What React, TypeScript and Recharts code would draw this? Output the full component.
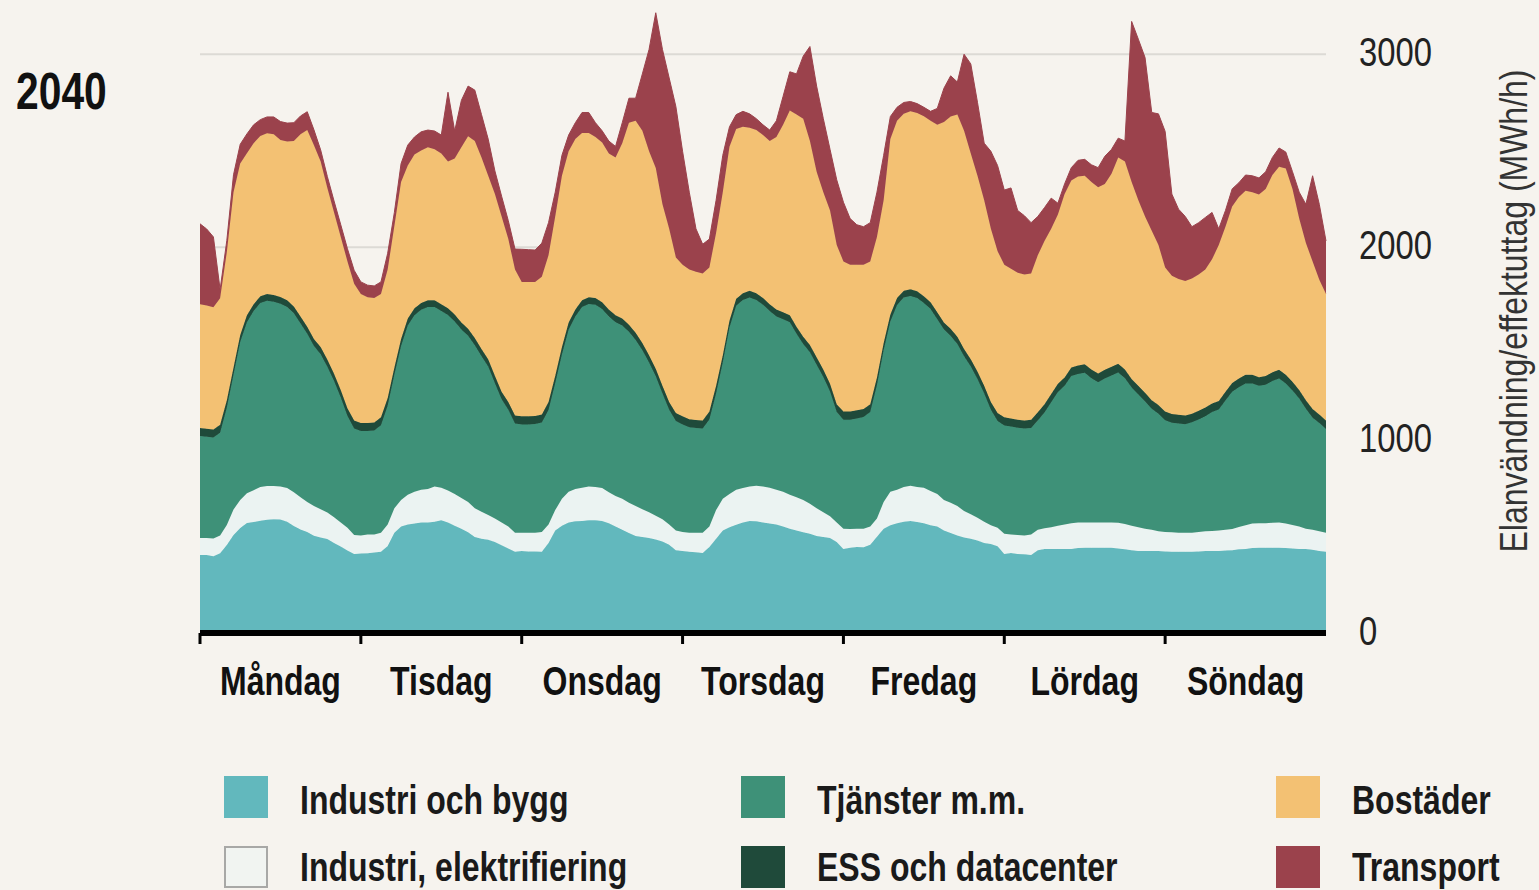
import { AreaChart, Area, XAxis, YAxis, CartesianGrid } from 'recharts'

const FONT = "'Liberation Sans', Arial, sans-serif"
const SQUEEZE = 0.8 // narrow look of the original typeface

const dayNames = ['Måndag', 'Tisdag', 'Onsdag', 'Torsdag', 'Fredag', 'Lördag', 'Söndag']
const dayTicks = [0, 24, 48, 72, 96, 120, 144]
const dayLabelTicks = [12, 36, 60, 84, 108, 132, 156]
const yTicks = [0, 1000, 2000, 3000]
const gridValues = [1000, 2000, 3000]

// MWh/h per hour, Monday 00 -> Sunday 24 (169 points)
const industri = [
  404, 404, 398, 414, 456, 508, 544, 570, 575, 582, 587, 590, 588, 577, 555, 536, 523, 504, 495, 487, 466, 449, 428, 409,
  412, 414, 417, 421, 451, 520, 552, 563, 567, 573, 573, 577, 584, 573, 556, 541, 522, 497, 489, 484, 472, 455, 438, 421,
  425, 423, 423, 421, 467, 531, 556, 573, 579, 581, 584, 584, 581, 569, 552, 535, 518, 503, 497, 493, 485, 474, 457, 429,
  425, 421, 419, 415, 446, 489, 531, 548, 561, 573, 581, 579, 573, 567, 563, 552, 541, 531, 522, 514, 503, 497, 493, 472,
  436, 442, 446, 444, 457, 499, 541, 558, 569, 577, 581, 575, 569, 558, 552, 531, 518, 506, 495, 489, 480, 467, 461, 450,
  410, 415, 410, 408, 404, 429, 436, 436, 436, 436, 436, 440, 442, 442, 442, 442, 442, 438, 434, 429, 425, 425, 425, 425,
  423, 421, 421, 421, 421, 423, 425, 425, 425, 427, 429, 434, 436, 440, 442, 442, 442, 442, 440, 438, 436, 436, 431, 425, 421,
]

const elektrifiering = [
  88, 88, 92, 91, 104, 132, 146, 155, 165, 175, 175, 172, 172, 174, 175, 168, 156, 154, 147, 137, 134, 124, 118, 99,
  93, 96, 93, 99, 112, 127, 137, 154, 165, 169, 173, 182, 169, 165, 165, 159, 157, 150, 139, 127, 122, 118, 114, 99,
  95, 97, 97, 103, 96, 106, 140, 159, 167, 172, 175, 173, 170, 160, 158, 161, 157, 155, 144, 133, 123, 116, 106, 102,
  99, 99, 101, 105, 106, 148, 165, 173, 181, 178, 178, 184, 186, 186, 179, 180, 176, 173, 167, 156, 144, 129, 112, 101,
  105, 97, 95, 97, 95, 95, 138, 174, 173, 180, 182, 182, 184, 178, 169, 158, 157, 152, 137, 126, 118, 110, 97, 96,
  104, 95, 98, 97, 106, 106, 107, 112, 120, 127, 133, 133, 131, 131, 131, 131, 131, 133, 131, 127, 123, 116, 110, 102,
  101, 101, 99, 99, 99, 101, 102, 104, 106, 108, 110, 116, 122, 127, 127, 127, 129, 131, 127, 122, 116, 105, 104, 102, 99,
]

const tjanster = [
  529, 525, 523, 533, 607, 698, 818, 886, 929, 954, 960, 955, 947, 939, 928, 900, 872, 829, 803, 756, 706, 648, 579, 552,
  542, 537, 539, 557, 615, 691, 798, 877, 915, 933, 944, 931, 916, 910, 894, 873, 862, 845, 807, 770, 701, 638, 605, 566,
  561, 561, 563, 567, 593, 658, 748, 840, 895, 937, 946, 944, 929, 912, 901, 898, 887, 861, 825, 776, 723, 651, 594, 568,
  557, 546, 542, 540, 555, 604, 706, 862, 954, 975, 980, 963, 942, 916, 899, 894, 894, 847, 809, 785, 744, 701, 647, 572,
  565, 567, 571, 578, 593, 690, 786, 882, 958, 982, 984, 980, 958, 944, 905, 884, 865, 840, 802, 766, 718, 664, 599, 553,
  562, 560, 556, 555, 553, 566, 600, 648, 693, 718, 763, 770, 776, 748, 727, 746, 762, 779, 756, 716, 688, 659, 627, 610,
  579, 568, 566, 562, 572, 583, 597, 616, 627, 670, 712, 724, 735, 726, 712, 718, 735, 746, 726, 697, 663, 621, 581, 561, 537,
]

const ess = [
  42, 42, 42, 42, 40, 38, 37, 36, 35, 35, 35, 35, 35, 35, 35, 36, 36, 37, 37, 38, 38, 39, 40, 41,
  42, 42, 42, 41, 40, 38, 37, 36, 36, 35, 35, 35, 35, 35, 36, 36, 36, 37, 37, 38, 39, 39, 40, 41,
  42, 42, 42, 42, 41, 39, 38, 37, 36, 35, 35, 35, 35, 36, 36, 36, 36, 37, 37, 38, 39, 40, 40, 41,
  42, 42, 42, 42, 41, 40, 38, 37, 36, 35, 35, 35, 35, 35, 36, 36, 36, 37, 37, 38, 38, 39, 40, 41,
  42, 42, 42, 42, 41, 40, 38, 37, 36, 35, 35, 35, 35, 35, 36, 36, 37, 37, 38, 38, 39, 40, 40, 41,
  42, 42, 42, 42, 43, 43, 43, 43, 43, 43, 44, 44, 44, 45, 45, 45, 45, 45, 45, 45, 45, 45, 45, 45,
  45, 45, 45, 45, 45, 45, 45, 45, 45, 45, 45, 45, 45, 45, 45, 45, 45, 45, 45, 45, 45, 45, 45, 45, 45,
]

const bostader = [
  641, 638, 634, 655, 767, 909, 888, 840, 835, 830, 833, 833, 814, 823, 857, 945, 1020, 1004, 962, 888, 835, 793, 761, 709,
  668, 651, 645, 639, 666, 734, 814, 793, 797, 791, 793, 782, 782, 761, 808, 909, 998, 1021, 993, 951, 941, 909, 845, 757,
  697, 697, 695, 713, 761, 825, 888, 888, 883, 867, 852, 835, 828, 809, 818, 909, 1047, 1099, 1100, 1057, 1040, 941, 898, 807,
  786, 776, 769, 761, 746, 793, 845, 900, 881, 863, 845, 846, 845, 846, 894, 972, 1061, 1099, 1131, 1057, 962, 919, 898, 825,
  778, 761, 755, 748, 740, 729, 740, 909, 919, 917, 922, 924, 933, 940, 972, 1040, 1100, 1152, 1131, 1067, 1015, 962, 898, 839,
  791, 776, 761, 756, 757, 814, 846, 856, 877, 951, 969, 979, 977, 972, 966, 964, 1001, 1070, 1078, 1021, 962, 914, 878, 829,
  746, 717, 704, 698, 700, 706, 715, 747, 808, 856, 915, 941, 954, 947, 947, 970, 1023, 1053, 1070, 1000, 888, 814, 765, 698, 655,
]

const transport = [
  417, 397, 364, 45, 60, 90, 100, 100, 95, 85, 85, 90, 95, 95, 95, 95, 95, 80, 60, 60, 60, 63, 66, 70,
  63, 63, 63, 63, 84, 70, 95, 106, 91, 97, 89, 95, 95, 359, 143, 243, 260, 264, 222, 190, 120, 105, 95, 106,
  169, 167, 165, 175, 169, 126, 106, 84, 85, 106, 106, 74, 60, 64, 57, 106, 127, 117, 295, 528, 805, 803, 782, 782,
  588, 401, 222, 152, 148, 169, 191, 104, 74, 80, 72, 59, 53, 57, 84, 148, 201, 211, 324, 490, 444, 381, 317, 338,
  307, 239, 207, 197, 201, 232, 233, 117, 70, 59, 51, 48, 46, 49, 85, 175, 211, 169, 397, 464, 381, 296, 402, 444,
  387, 419, 323, 305, 264, 201, 173, 159, 59, 53, 67, 84, 85, 89, 101, 143, 126, 100, 106, 832, 835, 824, 613, 680,
  706, 423, 362, 334, 269, 269, 270, 243, 84, 84, 91, 74, 82, 85, 86, 89, 91, 97, 85, 89, 137, 201, 444, 391, 275,
]

const series = [
  { key: 'industri', name: 'Industri och bygg', color: '#62b8bd' },
  { key: 'elektrifiering', name: 'Industri, elektrifiering', color: '#ebf3f2' },
  { key: 'tjanster', name: 'Tjänster m.m.', color: '#3e9178' },
  { key: 'ess', name: 'ESS och datacenter', color: '#1f4a3a' },
  { key: 'bostader', name: 'Bostäder', color: '#f3c173' },
  { key: 'transport', name: 'Transport', color: '#9b424c' },
]

const data = industri.map((v, i) => ({
  hour: i,
  industri: v,
  elektrifiering: elektrifiering[i],
  tjanster: tjanster[i],
  ess: ess[i],
  bostader: bostader[i],
  transport: transport[i],
}))

// legend order: three columns, two rows
const legendRows = [
  ['industri', 'tjanster', 'bostader'],
  ['elektrifiering', 'ess', 'transport'],
]
const legendCols = [224, 741, 1276]
const legendTops = [776, 846]

const NoLabel = () => <g />

const DayTick = ({ x, y, payload }: any) => (
  <text
    transform={`translate(${x},${y}) scale(${SQUEEZE},1)`}
    textAnchor="middle"
    dy={30}
    fontSize={40}
    fontWeight="bold"
    fill="#111"
    fontFamily={FONT}
  >
    {dayNames[Math.floor(payload.value / 24)]}
  </text>
)

const ValueTick = ({ x, y, payload }: any) => (
  <text
    transform={`translate(${x},${y}) scale(${SQUEEZE},1)`}
    textAnchor="start"
    dy={12}
    fontSize={41}
    fill="#222"
    fontFamily={FONT}
  >
    {payload.value}
  </text>
)

const squeezed = {
  transform: `scaleX(${SQUEEZE})`,
  transformOrigin: 'left center',
}

export default function App() {
  return (
    <div style={{ position: 'absolute', left: 0, top: 0, width: 1539, height: 890, background: '#f6f3ee', overflow: 'hidden', fontFamily: FONT }}>
      <div style={{ position: 'absolute', left: 16, top: 66, fontSize: 51, lineHeight: 1, fontWeight: 'bold', color: '#111', ...squeezed }}>2040</div>

      <div style={{ position: 'absolute', left: 0, top: 0 }}>
        <AreaChart width={1539} height={890} data={data} margin={{ top: 6, right: 0, bottom: 0, left: 200 }}>
          <CartesianGrid vertical={false} horizontalValues={gridValues} stroke="#dcdad5" strokeWidth={2} />
          <XAxis
            type="number"
            dataKey="hour"
            domain={[0, 168]}
            ticks={dayTicks}
            interval={0}
            tick={NoLabel}
            tickSize={11}
            tickLine={{ stroke: '#000', strokeWidth: 3 }}
            axisLine={{ stroke: '#000', strokeWidth: 6 }}
            height={20}
          />
          <XAxis
            xAxisId="days"
            type="number"
            dataKey="hour"
            domain={[0, 168]}
            ticks={dayLabelTicks}
            interval={0}
            tickSize={0}
            tickMargin={12}
            tickLine={false}
            axisLine={false}
            tick={DayTick}
            height={237}
          />
          <YAxis
            orientation="right"
            domain={[0, 3250]}
            ticks={yTicks}
            interval={0}
            width={213}
            axisLine={false}
            tickLine={false}
            tickSize={0}
            tickMargin={33}
            tick={ValueTick}
          />
          {series.map((s) => (
            <Area
              key={s.key}
              dataKey={s.key}
              name={s.name}
              stackId="a"
              type="linear"
              fill={s.color}
              fillOpacity={1}
              stroke={s.color}
              strokeWidth={1}
              dot={false}
              activeDot={false}
              isAnimationActive={false}
            />
          ))}
        </AreaChart>
      </div>

      <div
        style={{
          position: 'absolute',
          left: 1513,
          top: 311,
          transform: `translate(-50%, -50%) rotate(-90deg) scaleX(${SQUEEZE + 0.02})`,
          whiteSpace: 'nowrap',
          fontSize: 39,
          lineHeight: 1,
          color: '#333',
        }}
      >
        Elanvändning/effektuttag (MWh/h)
      </div>

      {legendRows.map((row, r) =>
        row.map((key, c) => {
          const s = series.find((x) => x.key === key)!
          const light = key === 'elektrifiering'
          return (
            <div key={key}>
              <div
                style={{
                  position: 'absolute',
                  left: legendCols[c],
                  top: legendTops[r],
                  width: 44,
                  height: 42,
                  boxSizing: 'border-box',
                  background: light ? '#f1f4f1' : s.color,
                  border: light ? '2px solid #a8a8a6' : 'none',
                }}
              />
              <div
                style={{
                  position: 'absolute',
                  left: legendCols[c] + 76,
                  top: legendTops[r] + (r === 0 ? 4 : 1),
                  fontSize: 40,
                  lineHeight: 1,
                  fontWeight: 'bold',
                  color: '#1a1a1a',
                  whiteSpace: 'nowrap',
                  ...squeezed,
                }}
              >
                {s.name}
              </div>
            </div>
          )
        })
      )}
    </div>
  )
}
